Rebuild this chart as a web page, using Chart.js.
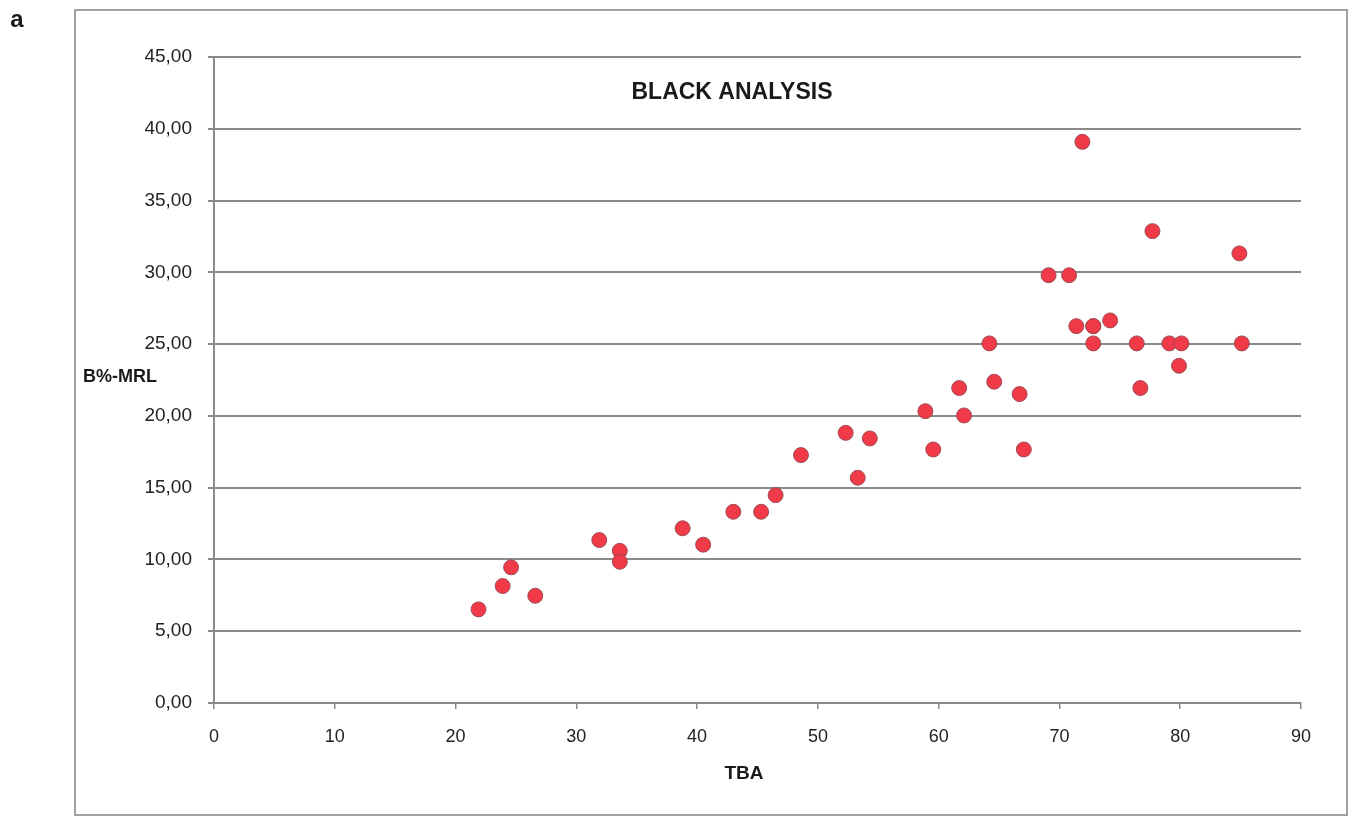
<!DOCTYPE html>
<html>
<head>
<meta charset="utf-8">
<script src="https://cdn.jsdelivr.net/npm/chart.js@4/dist/chart.umd.min.js"></script>
<style>
  html, body { margin: 0; padding: 0; background: #fff; }
  #wrap { width: 1348px; height: 816px; }
</style>
</head>
<body>
<div id="wrap"><canvas id="myChart" width="1348" height="816"></canvas></div>
<script>
// TBA (x) and B%-MRL (y)
const tba  = [21.9, 23.9, 24.6, 26.6, 31.9, 33.6, 33.6, 38.8, 40.5, 43.0,
              45.3, 46.5, 48.6, 52.3, 53.3, 54.3, 58.9, 59.55, 61.7, 62.1,
              64.2, 64.6, 66.7, 67.05, 69.1, 70.8, 71.4, 71.9, 72.8, 72.8,
              72.8, 74.2, 76.4, 76.7, 77.7, 79.1, 79.9, 80.1, 84.9, 85.1];
const bmrl = [6.52, 8.15, 9.45, 7.47, 11.35, 10.6, 9.84, 12.17, 11.03, 13.32,
              13.32, 14.48, 17.27, 18.82, 15.69, 18.43, 20.33, 17.66, 21.94, 20.03,
              25.05, 22.38, 21.52, 17.66, 29.8, 29.8, 26.25, 39.09, 26.25, 26.25,
              25.05, 26.65, 25.05, 21.94, 32.87, 25.05, 23.49, 25.05, 31.32, 25.05];

const xTickLabels = ['0', '10', '20', '30', '40', '50', '60', '70', '80', '90'];
const yTickLabels = ['0,00', '5,00', '10,00', '15,00', '20,00', '25,00', '30,00', '35,00', '40,00', '45,00'];

const chartTitle = 'BLACK ANALYSIS';
const xTitle = 'TBA';
const yTitle = 'B%-MRL';
const panelLetter = 'a';

const points = tba.map((x, i) => ({ x: x, y: bmrl[i] }));

// frame, panel letter, title and axis titles drawn by hand
const extras = {
  id: 'extras',
  beforeDraw(chart) {
    const c = chart.ctx;
    c.save();
    c.fillStyle = '#fff';
    c.fillRect(0, 0, chart.width, chart.height);
    c.strokeStyle = '#a0a0a0';
    c.lineWidth = 2;
    c.strokeRect(75, 10, 1272, 805);
    c.restore();
  },
  afterDraw(chart) {
    const c = chart.ctx;
    const a = chart.chartArea;
    c.save();
    c.fillStyle = '#1a1a1a';
    c.textBaseline = 'middle';
    c.textAlign = 'center';
    c.font = 'bold 24px "Liberation Sans", Arial, sans-serif';
    c.fillText(panelLetter, 17, 20);
    c.font = 'bold 23px "Liberation Sans", Arial, sans-serif';
    c.fillText(chartTitle, a.left + 518, a.top + 36);
    c.font = 'bold 19px "Liberation Sans", Arial, sans-serif';
    c.fillText(xTitle, a.left + 530, a.bottom + 71);
    c.font = 'bold 18px "Liberation Sans", Arial, sans-serif';
    c.textAlign = 'left';
    c.fillText(yTitle, 83, chart.scales.y.getPixelForValue(25) + 33);
    c.restore();
  }
};

const ctx = document.getElementById('myChart').getContext('2d');
const myChart = new Chart(ctx, {
  type: 'scatter',
  data: {
    datasets: [{
      label: chartTitle,
      data: points,
      backgroundColor: 'rgba(240, 58, 72, 1)',
      borderColor: 'rgba(150, 70, 80, 0.9)',
      borderWidth: 1,
      pointRadius: 7.5,
      pointHoverRadius: 7.5
    }]
  },
  options: {
    responsive: false,
    animation: false,
    layout: { padding: { top: 57, right: 47, left: 0, bottom: 0 } },
    plugins: {
      legend: { display: false },
      title: { display: false },
      tooltip: { enabled: false }
    },
    scales: {
      x: {
        type: 'linear',
        min: 0,
        max: 90,
        afterFit: (s) => { s.height = 113; },
        afterBuildTicks: (s) => { s.ticks = xTickLabels.map((t) => ({ value: Number(t) })); },
        ticks: {
          padding: 17,
          color: '#222',
          font: { family: '"Liberation Sans", Arial, sans-serif', size: 18 },
          callback: (v, i) => xTickLabels[i]
        },
        grid: { drawOnChartArea: false, drawTicks: true, tickLength: 6, color: '#8a8a8a', lineWidth: 1.5 },
        border: { color: '#8a8a8a', width: 2 }
      },
      y: {
        type: 'linear',
        min: 0,
        max: 45,
        afterFit: (s) => { s.width = 214; },
        afterBuildTicks: (s) => { s.ticks = yTickLabels.map((t) => ({ value: Number(t.replace(',', '.')) })); },
        ticks: {
          padding: 16,
          color: '#222',
          font: { family: '"Liberation Sans", Arial, sans-serif', size: 19 },
          callback: (v, i) => yTickLabels[i]
        },
        grid: { color: '#8a8a8a', lineWidth: 2, tickLength: 6 },
        border: { color: '#8a8a8a', width: 2 }
      }
    }
  },
  plugins: [extras]
});
</script>
</body>
</html>
